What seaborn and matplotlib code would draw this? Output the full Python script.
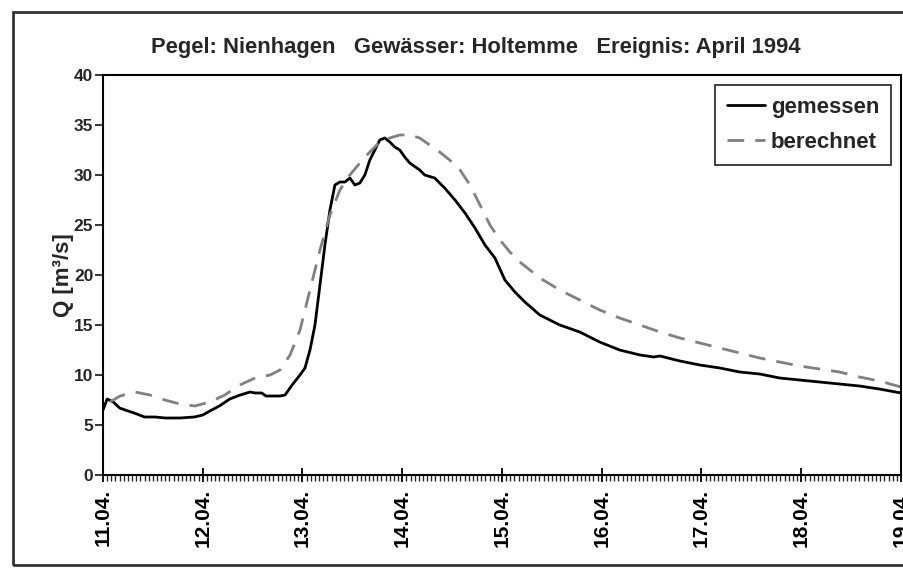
import numpy as np
import pandas as pd
import matplotlib
matplotlib.use("Agg")
import matplotlib.pyplot as plt
import seaborn as sns
from matplotlib.ticker import MultipleLocator, FixedLocator
from matplotlib.patches import Rectangle

# ---- data (hours since 11.04. 00:00) ----
hours_gemessen = [0, 1, 2.5, 4, 6, 7.5, 10, 12.5, 15, 18.5, 22, 24, 25.7, 28, 30.5, 33, 35.4,
                  36.6, 38.2, 39.2, 42.6, 43.8, 45.5, 47.4, 48.6, 49.8, 51, 52.2, 53.4, 54.6,
                  55.8, 57, 58.2, 59.4, 60.6, 61.8, 63, 64.2, 65.4, 66.6, 67.8, 69, 70.2, 71.4,
                  72.6, 73.8, 76.2, 77.4, 79.8, 82.2, 84.7, 87.1, 89.5, 91.9, 94.3, 96.7, 99.1,
                  101.5, 105.1, 109.9, 114.7, 119.5, 124.3, 129.2, 132.5, 134, 138.8, 143.6,
                  148.4, 153.2, 158, 162.8, 167.6, 172.4, 177.2, 182, 186.8, 192]
q_gemessen = [6.5, 7.6, 7.3, 6.7, 6.4, 6.2, 5.8, 5.8, 5.7, 5.7, 5.8, 6.0, 6.4, 6.9, 7.6, 8.0, 8.3,
              8.2, 8.2, 7.9, 7.9, 8.0, 9.0, 10.0, 10.7, 12.5, 15.0, 19.0, 23.0, 26.5,
              29.0, 29.3, 29.3, 29.7, 29.0, 29.2, 30.0, 31.5, 32.5, 33.5, 33.7, 33.3, 32.8, 32.5,
              31.8, 31.2, 30.5, 30.0, 29.7, 28.7, 27.5, 26.2, 24.7, 23.0, 21.7, 19.5, 18.3,
              17.3, 16.0, 15.0, 14.3, 13.3, 12.5, 12.0, 11.8, 11.9, 11.4, 11.0,
              10.7, 10.3, 10.1, 9.7, 9.5, 9.3, 9.1, 8.9, 8.6, 8.2]

hours_berechnet = [1.7, 4.1, 7.7, 11.3, 14.9, 18.5, 22.1, 25.7, 29.3, 32.9, 36.6, 40.2, 42.6, 45,
                   47.4, 49.8, 52.2, 54.6, 57, 59.4, 61.8, 64.2, 66.6, 69, 71.4, 73.8, 76.2,
                   78.6, 81, 83.4, 85.9, 88.3, 90.7, 93.1, 95.5, 97.9, 100.3, 105.1, 109.9,
                   114.7, 119.5, 124.3, 129.2, 134, 138.8, 143.6, 148.4, 153.2, 158, 162.8,
                   167.6, 172.4, 177.2, 182, 186.8, 192]
q_berechnet = [7.3, 7.9, 8.3, 8.0, 7.5, 7.1, 6.9, 7.3, 8.0, 9.0, 9.7, 10.0, 10.5, 12.0,
               14.5, 18.5, 22.5, 26.0, 28.5, 30.0, 31.2, 32.3, 33.3, 33.7, 34.0, 34.0, 33.7,
               33.0, 32.3, 31.5, 30.5, 29.0, 27.0, 25.0, 23.5, 22.3, 21.3, 19.7, 18.5,
               17.5, 16.5, 15.7, 15.0, 14.3, 13.7, 13.2, 12.7, 12.2, 11.7, 11.3,
               10.9, 10.6, 10.3, 9.8, 9.4, 8.8]

day_labels = ["11.04.", "12.04.", "13.04.", "14.04.", "15.04.", "16.04.", "17.04.", "18.04.", "19.04."]
title = "Pegel: Nienhagen   Gewässer: Holtemme   Ereignis: April 1994"

df = pd.concat([
    pd.DataFrame({"t": hours_gemessen, "Q": q_gemessen, "Serie": "gemessen"}),
    pd.DataFrame({"t": hours_berechnet, "Q": q_berechnet, "Serie": "berechnet"}),
], ignore_index=True)

sns.set_style("ticks")
plt.rcParams["font.family"] = ["Liberation Sans", "DejaVu Sans"]
plt.rcParams["font.weight"] = "bold"

fig = plt.figure(figsize=(9.04, 5.68), dpi=100)
ax = fig.add_axes([103/904, 1-475/568, (901-103)/904, 400/568])

sns.lineplot(data=df, x="t", y="Q", hue="Serie", style="Serie",
             palette={"gemessen": "black", "berechnet": "#808080"},
             dashes={"gemessen": "", "berechnet": (6, 4)},
             linewidth=2.0, ax=ax, sort=False, estimator=None)

ax.set_xlim(0, 192)
ax.set_ylim(0, 40)
ax.xaxis.set_major_locator(FixedLocator([24*i for i in range(len(day_labels))]))
ax.set_xticklabels(day_labels, rotation=90, fontsize=15, fontweight="bold")
ax.xaxis.set_minor_locator(MultipleLocator(1))
ax.yaxis.set_major_locator(MultipleLocator(5))
for lab in ax.get_yticklabels():
    lab.set_fontsize(12.5)
    lab.set_fontweight("bold")
ax.tick_params(axis="x", which="major", direction="inout", length=10, width=1.3, pad=5, colors="black")
ax.tick_params(axis="x", which="minor", direction="out", length=4, width=1.0)
ax.tick_params(axis="y", which="major", direction="out", length=6, width=1.3, pad=1)
ax.set_xlabel("")
ax.set_ylabel("Q [m³/s]", fontsize=16, fontweight="bold", labelpad=0)
for s in ax.spines.values():
    s.set_visible(True)
    s.set_linewidth(1.5)
    s.set_color("black")

handles = ax.get_legend().legend_handles
leg = ax.legend(handles=handles, labels=["gemessen", "berechnet"], loc="upper right",
                bbox_to_anchor=(0.988, 0.975), frameon=True, fancybox=False,
                prop={"size": 16, "weight": "bold"}, handlelength=1.7, handletextpad=0.25,
                borderpad=0.55, labelspacing=0.6, borderaxespad=0.0)
leg.get_frame().set_edgecolor("black")
leg.get_frame().set_linewidth(1.3)
for h in leg.get_lines():
    h.set_linewidth(2.0)

fig.text(476/904, 1-47/568, title, ha="center", va="center", fontsize=15.8, fontweight="bold")

fig.patches.append(Rectangle((13/904, 3/568), 1.0, 553/568, transform=fig.transFigure,
                             fill=False, edgecolor="#333333", linewidth=2.0))

fig.savefig("out.png", dpi=100)
